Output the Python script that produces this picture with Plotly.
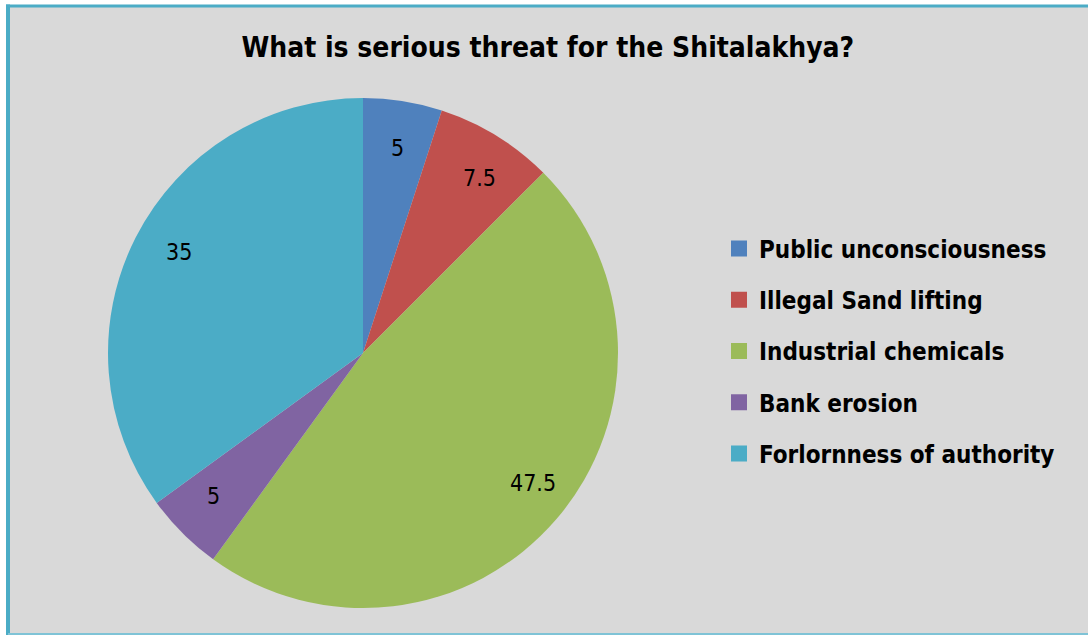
import math
import plotly.graph_objects as go

# Survey responses: share of respondents (%) naming each threat
categories = ["Public unconsciousness", "Illegal Sand lifting", "Industrial chemicals",
              "Bank erosion", "Forlornness of authority"]
values = [5, 7.5, 47.5, 5, 35]
colors = ["#4F81BD", "#C0504D", "#9BBB59", "#8064A2", "#4BACC6"]
title_text = "What is serious threat for the Shitalakhya?"

W, H = 1088, 635
NARROW = "Liberation Sans Narrow, Arial Narrow, DejaVu Sans Condensed, sans-serif"
EDGE = "#4BACC6"

# pie geometry (pixels)
cx, cy, R = 363, 353, 255
dom_x = [(cx - R) / W, (cx + R) / W]
dom_y = [(H - cy - R) / H, (H - cy + R) / H]

fig = go.Figure()
fig.add_trace(go.Pie(
    labels=categories, values=values, sort=False, direction="clockwise", rotation=0,
    marker=dict(colors=colors, line=dict(width=0)),
    textinfo="none", hoverinfo="label+value", showlegend=False,
    domain=dict(x=dom_x, y=dom_y),
))

# value labels placed near the rim of each slice
total = sum(values)
cum = 0.0
for v in values:
    mid = (cum + v / 2) / total * 2 * math.pi
    cum += v
    px = cx + 0.875 * R * math.sin(mid)
    py = cy - 0.875 * R * math.cos(mid)
    fig.add_annotation(x=px / W, y=1 - py / H, xref="paper", yref="paper",
                       text=f"{v:g}", showarrow=False,
                       font=dict(family=NARROW, size=23, color="#000000"))

# legend entries with square swatches
for name, col in zip(categories, colors):
    fig.add_trace(go.Scatter(x=[None], y=[None], mode="markers", name=f"<b>{name}</b>",
                             legendgroup=name,
                             marker=dict(symbol="square", size=16, color=col)))

# chart area: grey panel with a teal frame on the left, top and bottom
left, top, bottom = 8 / W, 1 - 6 / H, 1 - 634 / H
shapes = [
    dict(type="rect", xref="paper", yref="paper", layer="below",
         x0=left, x1=1, y0=0, y1=top, fillcolor="#D9D9D9", line=dict(width=0)),
    dict(type="line", xref="paper", yref="paper", layer="below",
         x0=left, x1=left, y0=0, y1=top + 1.5 / H, line=dict(color=EDGE, width=4)),
    dict(type="line", xref="paper", yref="paper", layer="below",
         x0=left - 2 / W, x1=1, y0=top, y1=top, line=dict(color=EDGE, width=3)),
    dict(type="line", xref="paper", yref="paper", layer="below",
         x0=left, x1=1, y0=bottom, y1=bottom, line=dict(color="#7FC3D6", width=2)),
]

fig.update_layout(
    width=W, height=H,
    margin=dict(l=0, r=0, t=0, b=0),
    paper_bgcolor="#FFFFFF",
    plot_bgcolor="rgba(0,0,0,0)",
    xaxis=dict(visible=False), yaxis=dict(visible=False),
    title=dict(text=f"<b>{title_text}</b>", x=0.5035, xanchor="center",
               y=1 - 47 / H, yanchor="middle", yref="paper",
               font=dict(family=NARROW, size=28, color="#000000")),
    legend=dict(x=719 / W, xanchor="left", y=1 - 351 / H, yanchor="middle",
                bgcolor="rgba(0,0,0,0)", tracegroupgap=17,
                font=dict(family=NARROW, size=24, color="#000000"),
                itemclick=False, itemdoubleclick=False),
    shapes=shapes,
)

fig.write_html("out.html")
